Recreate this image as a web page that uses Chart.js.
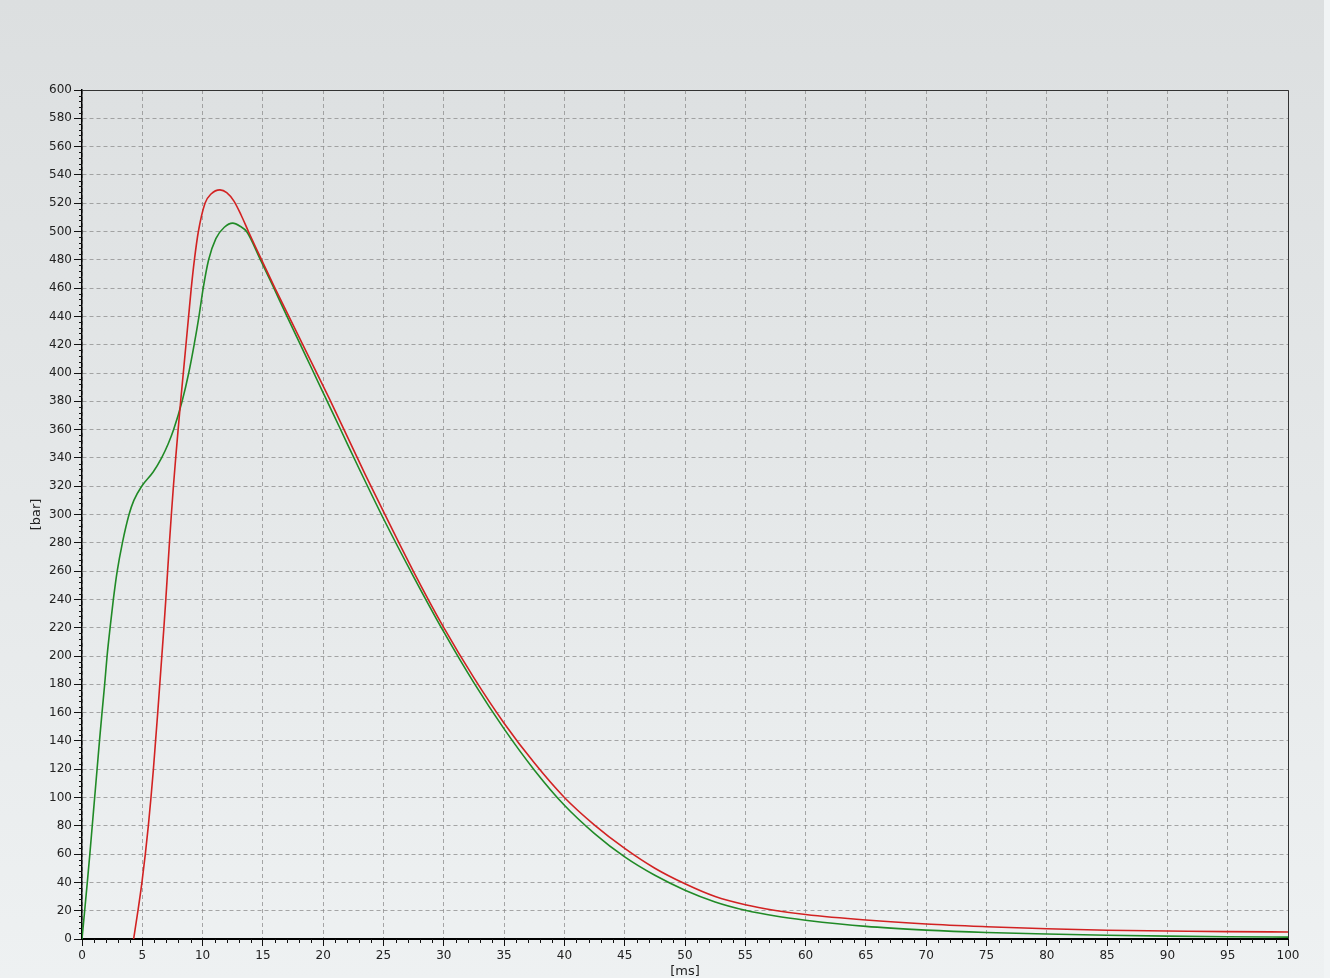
<!DOCTYPE html>
<html>
<head>
<meta charset="utf-8">
<script src="https://cdn.jsdelivr.net/npm/chart.js@4/dist/chart.umd.min.js"></script>
<style>
  html, body { margin: 0; padding: 0; background: #f1f4f5; overflow: hidden; }
  #wrap { position: relative; width: 1324px; height: 978px;
          background: linear-gradient(to bottom, #dcdfe0 0%, #e3e6e7 40%, #eef1f2 100%); }
</style>
</head>
<body>
<div id="wrap"><canvas id="c"></canvas></div>
<script>
// ---- data ----
const greenTime = [0, 0.22, 0.44, 0.65, 0.85, 1.05, 1.25, 1.45, 1.66, 1.88, 2.08, 2.33, 2.6, 2.92, 3.35, 3.9, 4.3, 4.95, 5.9, 6.6, 7.15, 7.6, 8.3, 8.85, 9.3, 9.7, 10.05, 10.5, 11.1, 11.8, 12.5, 13.15, 13.65, 14.8, 15.8, 17.0, 18.5, 20.0, 21.5, 23.0, 25.0, 27.5, 30.0, 32.5, 35.0, 37.5, 40.0, 42.5, 45, 47.5, 50, 52.5, 55, 57.5, 60, 65, 70, 75, 80, 85, 90, 95, 100];
const greenPressure = [0, 20, 40, 60, 80, 100, 120, 140, 160, 180, 200, 220, 240, 260, 280, 300, 310, 320, 330, 340, 350, 360, 380, 400, 420, 440, 460, 480, 495, 503, 505.9, 503.5, 500, 480, 462, 440, 413, 386, 359, 332, 297, 256, 217, 181, 148.5, 119.5, 94.5, 74.5, 58, 45, 34.5, 26.2, 20.3, 16.2, 13.3, 8.9, 6.3, 4.6, 3.5, 2.6, 2.0, 1.6, 1.3];

const redTime = [4.28, 4.64, 4.97, 5.25, 5.5, 5.72, 5.92, 6.1, 6.28, 6.45, 6.62, 6.79, 6.95, 7.1, 7.25, 7.41, 7.58, 7.77, 7.97, 8.18, 8.4, 8.62, 8.84, 9.06, 9.32, 9.65, 10.2, 10.7, 11.44, 12.0, 12.6, 13.2, 13.8, 15.0, 16.0, 17.5, 19.0, 20.5, 22.0, 23.5, 25.0, 27.5, 30.0, 32.5, 35.0, 37.5, 40.0, 42.5, 45.0, 47.5, 50.0, 52.5, 55.0, 57.5, 60.0, 65.0, 70.0, 75.0, 80.0, 85.0, 90.0, 95.0, 100];
const redPressure = [0, 20, 40, 60, 80, 100, 120, 140, 160, 180, 200, 220, 240, 260, 280, 300, 320, 340, 360, 380, 400, 420, 440, 460, 480, 500, 520, 526.5, 529.4, 527.5, 521.5, 511.5, 500, 478, 460, 434, 408, 382, 355, 328, 302, 259.5, 220, 184.5, 152.5, 124.5, 100, 80.5, 64, 50, 39, 30, 24.2, 20.2, 17.3, 13.4, 10.6, 8.7, 7.2, 6.2, 5.7, 5.2, 5.0];

const xTickStep = 5, yTickStep = 20;
const xMin = 0, xMax = 100, yMin = 0, yMax = 600;
const xTitle = '[ms]', yTitle = '[bar]';

const toPoints = (xs, ys) => xs.map((x, i) => ({x: x, y: ys[i]}));

const frameAndMinor = {
  id: 'frameAndMinor',
  afterDraw(chart) {
    const {ctx, chartArea: a, scales: {x, y}} = chart;
    ctx.save();
    ctx.setLineDash([]);
    ctx.strokeStyle = '#111';
    ctx.lineWidth = 1;
    ctx.beginPath();
    for (let v = xMin; v <= xMax; v += 1) {
      if (v % xTickStep === 0) continue;
      const px = Math.round(x.getPixelForValue(v)) + 0.5;
      ctx.moveTo(px, a.bottom); ctx.lineTo(px, a.bottom + 4);
    }
    for (let v = yMin; v <= yMax; v += 4) {
      if (v % yTickStep === 0) continue;
      const py = Math.round(y.getPixelForValue(v)) + 0.5;
      ctx.moveTo(a.left - 3, py); ctx.lineTo(a.left, py);
    }
    ctx.stroke();
    ctx.strokeStyle = '#333';
    ctx.beginPath();
    ctx.moveTo(a.left, Math.round(a.top) + 0.5);
    ctx.lineTo(Math.round(a.right) + 0.5, Math.round(a.top) + 0.5);
    ctx.lineTo(Math.round(a.right) + 0.5, a.bottom);
    ctx.stroke();
    ctx.restore();
  }
};

const tickFont = {family: 'DejaVu Sans', size: 12};
const titleFont = {family: 'DejaVu Sans', size: 13, lineHeight: 1.0};
const gridOpts = (len) => ({ color: 'rgba(140,140,140,0.75)', lineWidth: 1,
  tickLength: len, tickColor: '#111', tickBorderDash: [], tickWidth: 1 });

new Chart(document.getElementById('c'), {
  type: 'line',
  data: {
    datasets: [
      { label: 'red', data: toPoints(redTime, redPressure), borderColor: '#d22222',
        borderWidth: 1.6, pointRadius: 0, cubicInterpolationMode: 'monotone', fill: false },
      { label: 'green', data: toPoints(greenTime, greenPressure), borderColor: '#208a26',
        borderWidth: 1.6, pointRadius: 0, cubicInterpolationMode: 'monotone', fill: false }
    ]
  },
  options: {
    responsive: true,
    maintainAspectRatio: false,
    animation: false,
    layout: { padding: { top: 90, right: 36, left: 0, bottom: 0 } },
    plugins: { legend: { display: false }, tooltip: { enabled: false } },
    scales: {
      x: {
        type: 'linear', min: xMin, max: xMax,
        afterFit(s) { s.height = 39; },
        ticks: { stepSize: xTickStep, color: '#222', font: tickFont, padding: 3, maxRotation: 0 },
        grid: gridOpts(7),
        border: { display: true, color: '#000', width: 2, dash: [4, 3] },
        title: { display: true, text: xTitle, color: '#222', font: titleFont, padding: {top: 0, bottom: 0} }
      },
      y: {
        type: 'linear', min: yMin, max: yMax,
        afterFit(s) { s.width = 82; },
        ticks: { stepSize: yTickStep, color: '#222', font: tickFont, padding: 2 },
        grid: gridOpts(8),
        border: { display: true, color: '#000', width: 1.5, dash: [4, 3] },
        title: { display: true, text: yTitle, color: '#222', font: titleFont, padding: {top: 30, bottom: 0} }
      }
    }
  },
  plugins: [frameAndMinor]
});
</script>
</body>
</html>
